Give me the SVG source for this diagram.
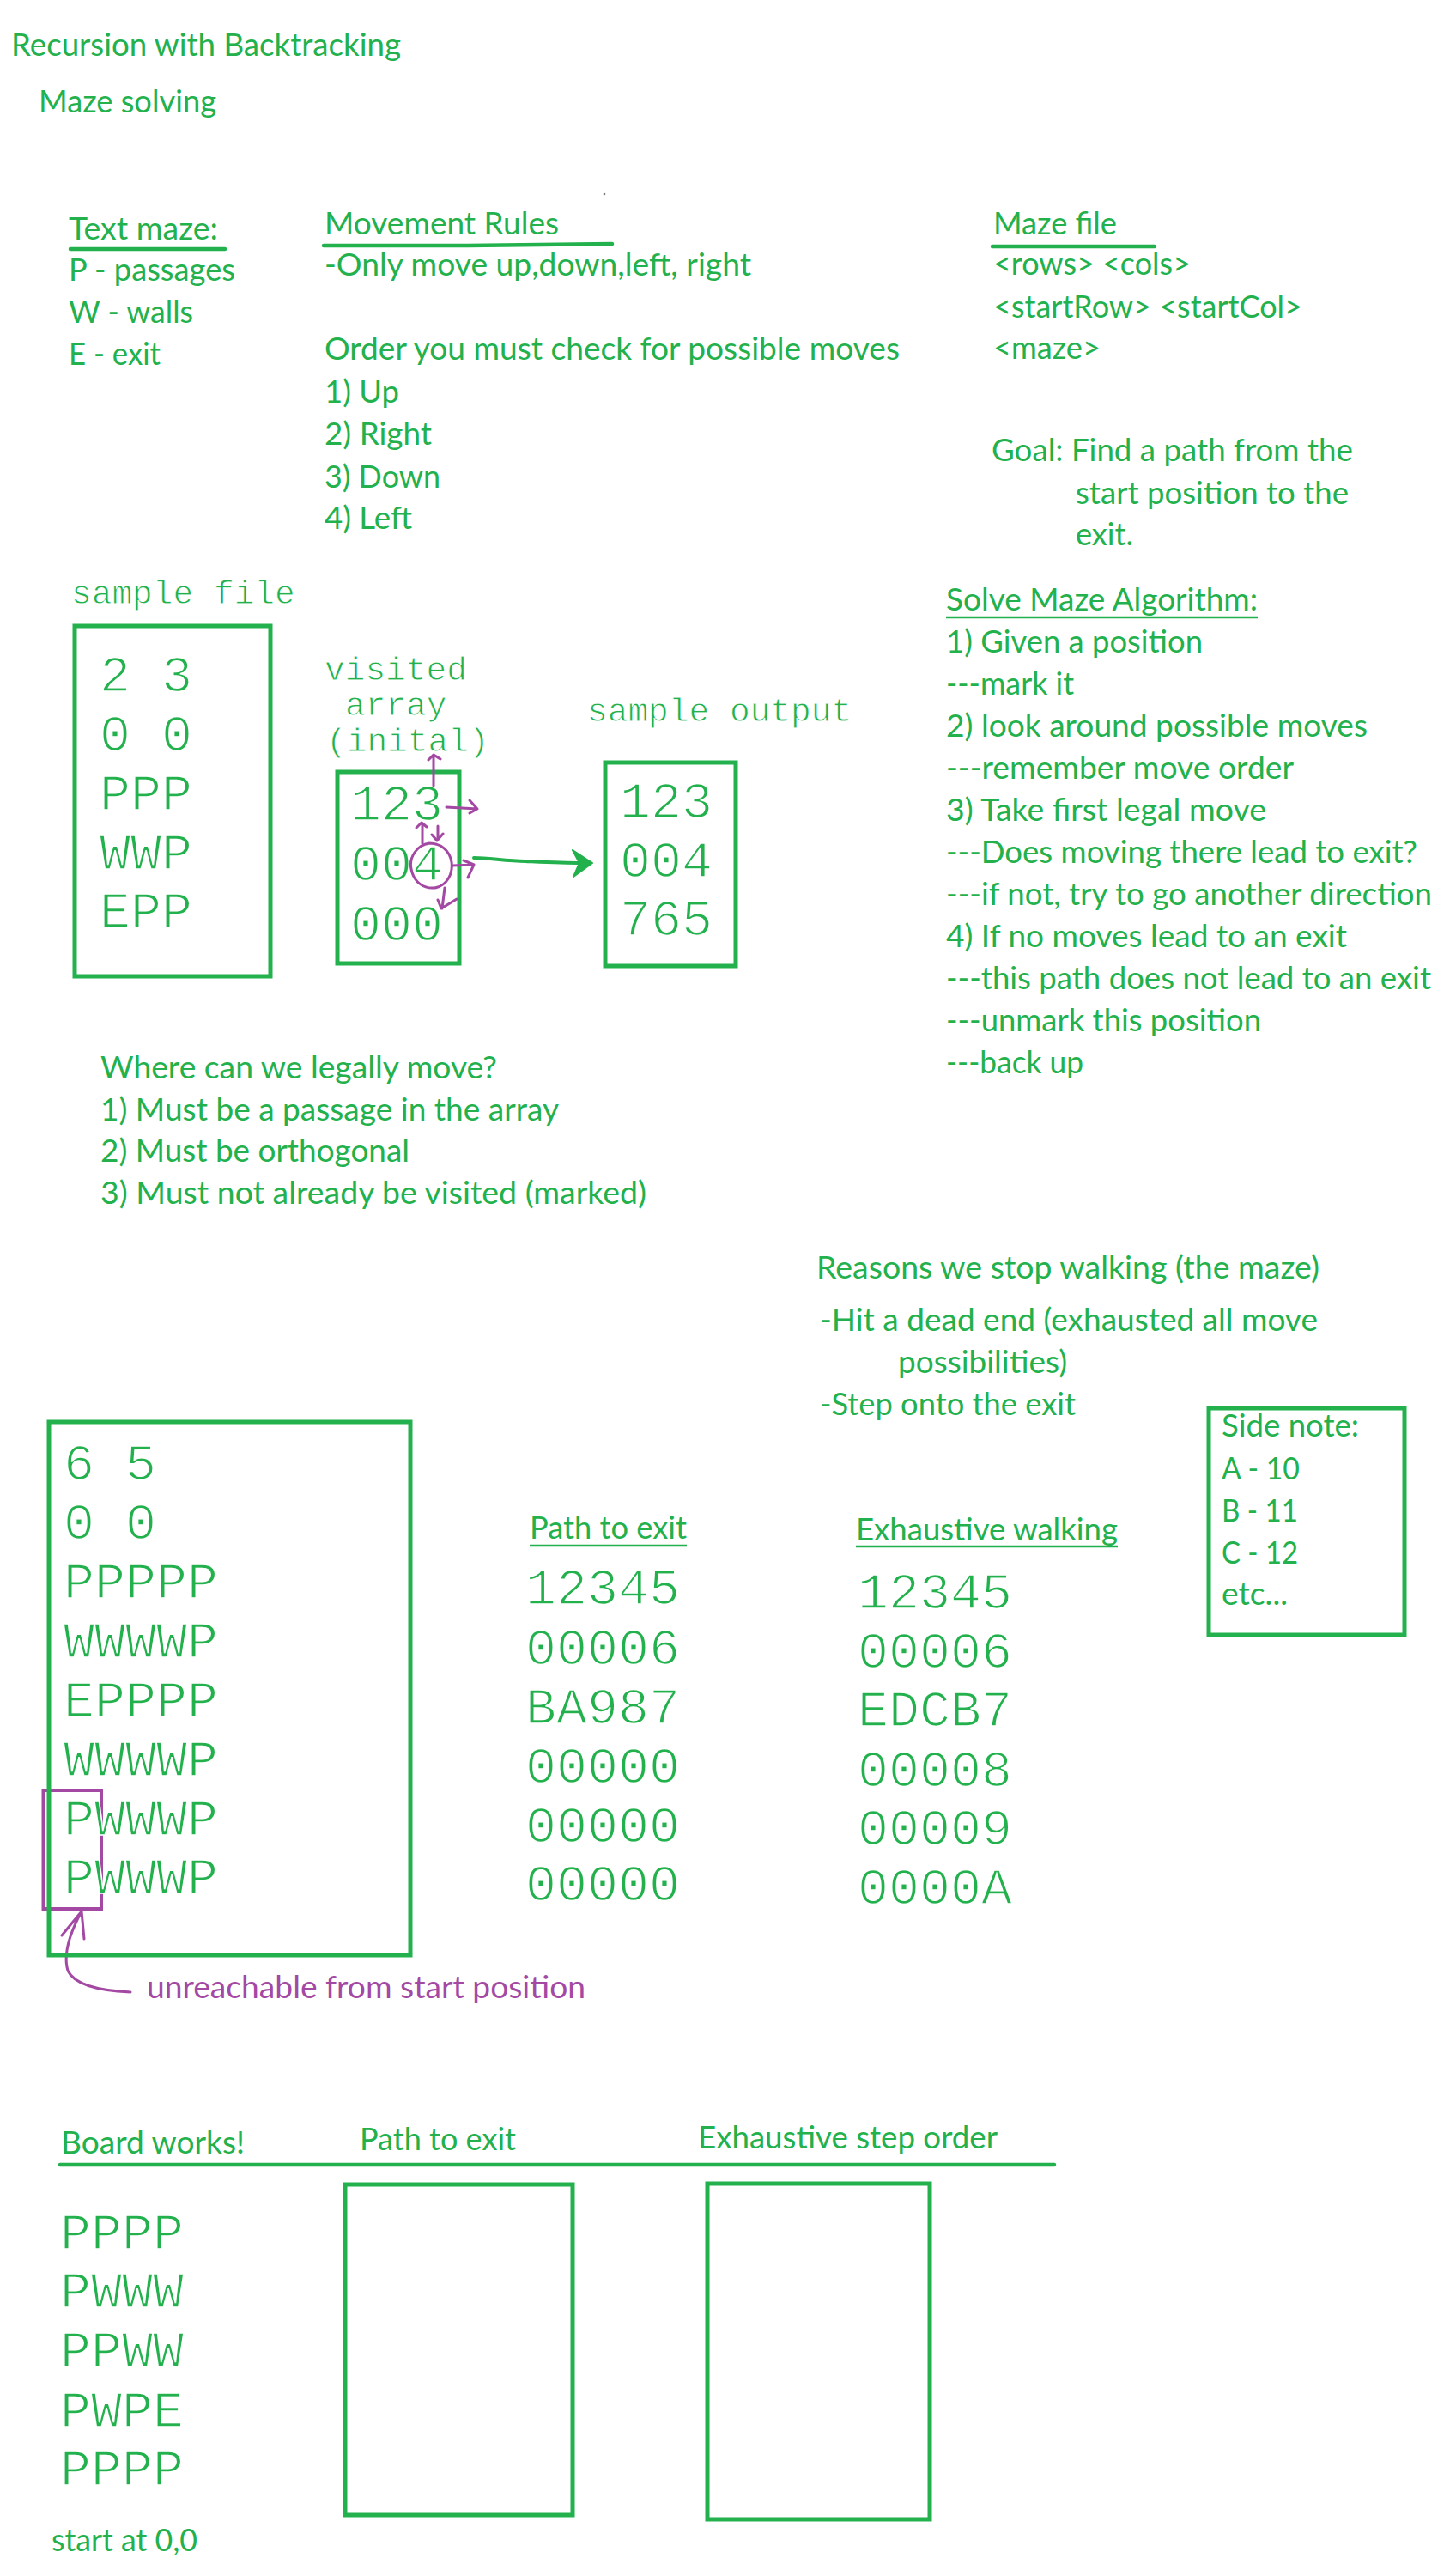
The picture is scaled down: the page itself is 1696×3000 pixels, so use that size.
<svg xmlns="http://www.w3.org/2000/svg" width="1696" height="3000" viewBox="0 0 1696 3000">
<style>
.t{font-family:Lato,"Open Sans","Liberation Sans",sans-serif;font-size:36px;fill:#22b14c}
.p{fill:#a349a4}
.m{font-family:"Liberation Mono","DejaVu Sans Mono",monospace;fill:#22b14c;stroke:#ffffff}
.m60{font-size:60px;stroke-width:1.6}
.m39{font-size:39.5px;stroke-width:0.9}
.box{fill:none;stroke:#22b14c;stroke-width:5}
.ul{stroke:#22b14c;stroke-width:4.5;stroke-linecap:round;fill:none}
.ul2{stroke:#22b14c;stroke-width:2.5;fill:none}
.pu{stroke:#a349a4;fill:none;stroke-width:3;stroke-linecap:round;stroke-linejoin:round}
</style>
<rect width="1696" height="3000" fill="#ffffff"/>

<g id="title">
<text class="t" x="13" y="65" textLength="454" lengthAdjust="spacingAndGlyphs">Recursion with Backtracking</text>
<text class="t" x="45" y="131" textLength="207" lengthAdjust="spacingAndGlyphs">Maze solving</text>
</g>
<circle cx="704" cy="226" r="1.3" fill="#777"/>

<g id="text-maze">
<text class="t" x="80" y="279" textLength="174" lengthAdjust="spacingAndGlyphs">Text maze:</text>
<path class="ul" d="M82,290 L170,290 L262,290"/>
<text class="t" x="80" y="327" textLength="194" lengthAdjust="spacingAndGlyphs">P - passages</text>
<text class="t" x="80" y="376" textLength="145" lengthAdjust="spacingAndGlyphs">W - walls</text>
<text class="t" x="80" y="425" textLength="107" lengthAdjust="spacingAndGlyphs">E - exit</text>
</g>

<g id="movement-rules">
<text class="t" x="378" y="273" textLength="273" lengthAdjust="spacingAndGlyphs">Movement Rules</text>
<path class="ul" d="M377,286 L545,286 L713,284"/>
<text class="t" x="378" y="321" textLength="497" lengthAdjust="spacingAndGlyphs">-Only move up,down,left, right</text>
<text class="t" x="378" y="419" textLength="670" lengthAdjust="spacingAndGlyphs">Order you must check for possible moves</text>
<text class="t" x="378" y="469" textLength="87" lengthAdjust="spacingAndGlyphs">1) Up</text>
<text class="t" x="378" y="518" textLength="125" lengthAdjust="spacingAndGlyphs">2) Right</text>
<text class="t" x="378" y="568" textLength="135" lengthAdjust="spacingAndGlyphs">3) Down</text>
<text class="t" x="378" y="616" textLength="102" lengthAdjust="spacingAndGlyphs">4) Left</text>
</g>

<g id="maze-file">
<text class="t" x="1157" y="273" textLength="144" lengthAdjust="spacingAndGlyphs">Maze file</text>
<path class="ul" d="M1156,287 L1345,287"/>
<text class="t" x="1157" y="320" textLength="230" lengthAdjust="spacingAndGlyphs">&lt;rows&gt; &lt;cols&gt;</text>
<text class="t" x="1157" y="370" textLength="360" lengthAdjust="spacingAndGlyphs">&lt;startRow&gt; &lt;startCol&gt;</text>
<text class="t" x="1157" y="418" textLength="125" lengthAdjust="spacingAndGlyphs">&lt;maze&gt;</text>
<text class="t" x="1155" y="537" textLength="421" lengthAdjust="spacingAndGlyphs">Goal: Find a path from the</text>
<text class="t" x="1253" y="587" textLength="318" lengthAdjust="spacingAndGlyphs">start position to the</text>
<text class="t" x="1253" y="635" textLength="67" lengthAdjust="spacingAndGlyphs">exit.</text>
</g>

<g id="sample-file">
<text class="m m39" x="83" y="703">sample file</text>
<rect class="box" x="87" y="729" width="228" height="408"/>
<text class="m m60" x="116" y="805">2 3</text>
<text class="m m60" x="116" y="874">0 0</text>
<text class="m m60" x="116" y="943">PPP</text>
<text class="m m60" x="116" y="1012">WWP</text>
<text class="m m60" x="116" y="1080">EPP</text>
</g>

<g id="visited-array">
<text class="m m39" x="378" y="792">visited</text>
<text class="m m39" x="402" y="833">array</text>
<text class="m m39" x="380" y="875">(inital)</text>
<rect class="box" x="393" y="899" width="142" height="223"/>
<text class="m m60" x="408" y="955">123</text>
<text class="m m60" x="408" y="1025">004</text>
<text class="m m60" x="408" y="1095">000</text>
</g>

<g id="sample-output">
<text class="m m39" x="684" y="840">sample output</text>
<rect class="box" x="705" y="888" width="152" height="237"/>
<text class="m m60" x="722" y="952">123</text>
<text class="m m60" x="722" y="1021">004</text>
<text class="m m60" x="722" y="1089">765</text>
</g>

<g id="annotations">
<path class="pu" d="M505,915 L505,880 M499,885 L505,879 L513,884"/>
<path class="pu" d="M520,940 L556,942 M547,932 L556,942 L547,947"/>
<path class="pu" d="M492,982 L492,959 M485,964 L491,958 L497,963"/>
<path class="pu" d="M510,962 L510,978 M503,972 L509,979 L516,971"/>
<path class="pu" d="M500,982 C486,984 476,998 479,1012 C482,1028 494,1035 506,1034 C520,1032 528,1018 526,1004 C524,991 514,982 500,982 Z"/>
<path class="pu" d="M527,1008 L552,1007 M540,1002 L552,1007 L545,1022"/>
<path class="pu" d="M518,1034 L515,1058 M510,1048 L514,1058 L532,1047"/>
<path class="pu" d="M95,2226 C82,2250 73,2275 79,2295 C86,2310 110,2318 152,2320 M72,2254 L95,2226 L98,2258"/>
<rect x="50.5" y="2085" width="67.5" height="138" fill="none" stroke="#a349a4" stroke-width="4"/>
</g>

<g id="connectors">
<path d="M552,999 C570,999 590,1003 612,1003 C635,1004 655,1005 678,1005" fill="none" stroke="#22b14c" stroke-width="4" stroke-linecap="round"/>
<polygon points="667,990 690,1005 668,1021 675,1005" fill="#22b14c" stroke="#22b14c" stroke-width="2" stroke-linejoin="round"/>
</g>

<g id="algorithm">
<text class="t" x="1102" y="711" textLength="363" lengthAdjust="spacingAndGlyphs">Solve Maze Algorithm:</text>
<path class="ul2" d="M1102,719 L1465,719"/>
<text class="t" x="1102" y="760" textLength="299" lengthAdjust="spacingAndGlyphs">1) Given a position</text>
<text class="t" x="1102" y="809" textLength="149" lengthAdjust="spacingAndGlyphs">---mark it</text>
<text class="t" x="1102" y="858" textLength="491" lengthAdjust="spacingAndGlyphs">2) look around possible moves</text>
<text class="t" x="1102" y="907" textLength="405" lengthAdjust="spacingAndGlyphs">---remember move order</text>
<text class="t" x="1102" y="956" textLength="373" lengthAdjust="spacingAndGlyphs">3) Take first legal move</text>
<text class="t" x="1102" y="1005" textLength="549" lengthAdjust="spacingAndGlyphs">---Does moving there lead to exit?</text>
<text class="t" x="1102" y="1054" textLength="566" lengthAdjust="spacingAndGlyphs">---if not, try to go another direction</text>
<text class="t" x="1102" y="1103" textLength="467" lengthAdjust="spacingAndGlyphs">4) If no moves lead to an exit</text>
<text class="t" x="1102" y="1152" textLength="565" lengthAdjust="spacingAndGlyphs">---this path does not lead to an exit</text>
<text class="t" x="1102" y="1201" textLength="367" lengthAdjust="spacingAndGlyphs">---unmark this position</text>
<text class="t" x="1102" y="1250" textLength="160" lengthAdjust="spacingAndGlyphs">---back up</text>
</g>

<g id="legal-moves">
<text class="t" x="117" y="1256" textLength="462" lengthAdjust="spacingAndGlyphs">Where can we legally move?</text>
<text class="t" x="117" y="1305" textLength="534" lengthAdjust="spacingAndGlyphs">1) Must be a passage in the array</text>
<text class="t" x="117" y="1353" textLength="360" lengthAdjust="spacingAndGlyphs">2) Must be orthogonal</text>
<text class="t" x="117" y="1402" textLength="636" lengthAdjust="spacingAndGlyphs">3) Must not already be visited (marked)</text>
</g>

<g id="stop-reasons">
<text class="t" x="951" y="1489" textLength="586" lengthAdjust="spacingAndGlyphs">Reasons we stop walking (the maze)</text>
<text class="t" x="955" y="1550" textLength="580" lengthAdjust="spacingAndGlyphs">-Hit a dead end (exhausted all move</text>
<text class="t" x="1046" y="1599" textLength="197" lengthAdjust="spacingAndGlyphs">possibilities)</text>
<text class="t" x="955" y="1648" textLength="298" lengthAdjust="spacingAndGlyphs">-Step onto the exit</text>
</g>

<g id="side-note">
<rect class="box" x="1408" y="1640" width="228" height="264"/>
<text class="t" x="1423" y="1673" textLength="160" lengthAdjust="spacingAndGlyphs">Side note:</text>
<text class="t" x="1423" y="1723" textLength="91" lengthAdjust="spacingAndGlyphs">A - 10</text>
<text class="t" x="1423" y="1772" textLength="89" lengthAdjust="spacingAndGlyphs">B - 11</text>
<text class="t" x="1423" y="1821" textLength="89" lengthAdjust="spacingAndGlyphs">C - 12</text>
<text class="t" x="1423" y="1869" textLength="77" lengthAdjust="spacingAndGlyphs">etc...</text>
</g>

<g id="big-maze">
<rect class="box" x="57" y="1656" width="421" height="621"/>
<text class="m m60" x="74" y="1723">6 5</text>
<text class="m m60" x="74" y="1792">0 0</text>
<text class="m m60" x="74" y="1861">PPPPP</text>
<text class="m m60" x="74" y="1930">WWWWP</text>
<text class="m m60" x="74" y="1999">EPPPP</text>
<text class="m m60" x="74" y="2068">WWWWP</text>
<text class="m m60" x="74" y="2137">PWWWP</text>
<text class="m m60" x="74" y="2205">PWWWP</text>
<text class="t p" x="171" y="2327" textLength="511" lengthAdjust="spacingAndGlyphs">unreachable from start position</text>
</g>

<g id="path-to-exit">
<text class="t" x="617" y="1792" textLength="183" lengthAdjust="spacingAndGlyphs">Path to exit</text>
<path class="ul2" d="M617,1800 L800,1800"/>
<text class="m m60" x="612" y="1868">12345</text>
<text class="m m60" x="612" y="1938">00006</text>
<text class="m m60" x="612" y="2007">BA987</text>
<text class="m m60" x="612" y="2076">00000</text>
<text class="m m60" x="612" y="2145">00000</text>
<text class="m m60" x="612" y="2213">00000</text>
</g>

<g id="exhaustive-walking">
<text class="t" x="997" y="1794" textLength="305" lengthAdjust="spacingAndGlyphs">Exhaustive walking</text>
<path class="ul2" d="M997,1801 L1302,1801"/>
<text class="m m60" x="999" y="1873">12345</text>
<text class="m m60" x="999" y="1942">00006</text>
<text class="m m60" x="999" y="2010">EDCB7</text>
<text class="m m60" x="999" y="2080">00008</text>
<text class="m m60" x="999" y="2148">00009</text>
<text class="m m60" x="999" y="2217">0000A</text>
</g>

<g id="board-works">
<text class="t" x="71" y="2508" textLength="214" lengthAdjust="spacingAndGlyphs">Board works!</text>
<text class="t" x="419" y="2504" textLength="182" lengthAdjust="spacingAndGlyphs">Path to exit</text>
<text class="t" x="813" y="2502" textLength="349" lengthAdjust="spacingAndGlyphs">Exhaustive step order</text>
<path class="ul" d="M70,2521 L1228,2521"/>
<text class="m m60" x="70" y="2619">PPPP</text>
<text class="m m60" x="70" y="2687">PWWW</text>
<text class="m m60" x="70" y="2756">PPWW</text>
<text class="m m60" x="70" y="2826">PWPE</text>
<text class="m m60" x="70" y="2894">PPPP</text>
<rect class="box" x="402" y="2544" width="265" height="385"/>
<rect class="box" x="824" y="2543" width="259" height="391"/>
<text class="t" x="60" y="2971" textLength="170" lengthAdjust="spacingAndGlyphs">start at 0,0</text>
</g>
</svg>
